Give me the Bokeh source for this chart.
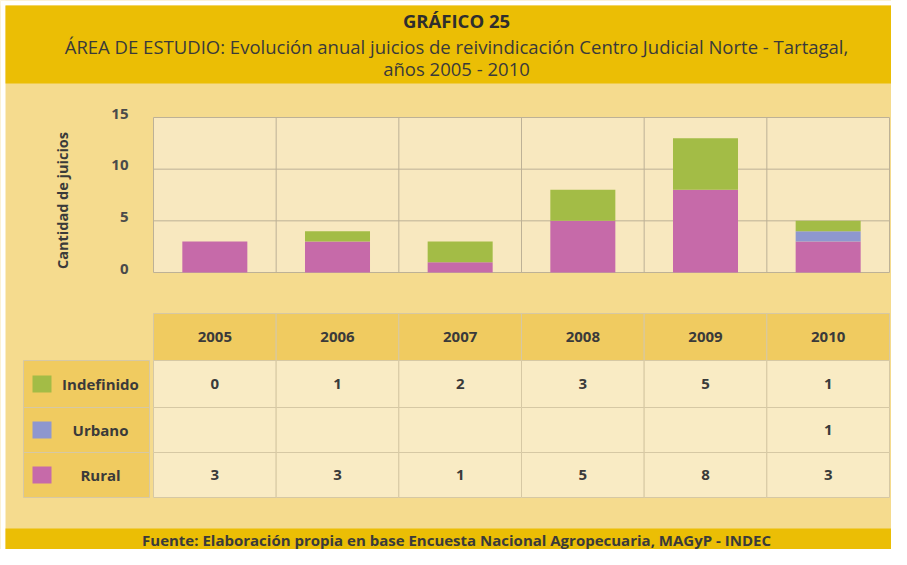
import numpy as np
from bokeh.plotting import figure
from bokeh.models import Range1d, ColumnDataSource
from bokeh.core.properties import value
from bokeh.embed import file_html
from bokeh.resources import INLINE

# ---------------- data ----------------
years = ["2005", "2006", "2007", "2008", "2009", "2010"]
rural = [3, 3, 1, 5, 8, 3]
urbano = [None, None, None, None, None, 1]
indefinido = [0, 1, 2, 3, 5, 1]
y_ticks = [0, 5, 10, 15]
series_names = ["Indefinido", "Urbano", "Rural"]
series_colors = ["#A3BC46", "#8E97CF", "#C66AA9"]

title = "GRÁFICO 25"
subtitle1 = "ÁREA DE ESTUDIO: Evolución anual juicios de reivindicación Centro Judicial Norte - Tartagal,"
subtitle2 = "años 2005 - 2010"
y_label = "Cantidad de juicios"
footer = "Fuente: Elaboración propia en base Encuesta Nacional Agropecuaria, MAGyP - INDEC"

# ---------------- styles ----------------
BANNER = "#EBBE05"
BODY = "#F5DB8E"
PLOTBG = "#F8E8BF"
GRID = "#BDB196"
HEAD = "#F0CB60"
CELL = "#F9EBC4"
CELL_LINE = "#D6C8A4"
TXT = "#3A3A3A"
FONT = value("Open Sans")

W, H = 891, 549
PLOT_L, PLOT_R, PLOT_T, PLOT_B = 153, 889, 117, 272
ncat = len(years)
ymax = max(y_ticks)
ppx = (PLOT_R - PLOT_L) / ncat
ppy = (PLOT_B - PLOT_T) / ymax

p = figure(width=W, height=H, output_backend="svg", toolbar_location=None,
           x_range=Range1d(0, W), y_range=Range1d(H, 0),
           x_axis_location=None, y_axis_location=None, min_border=0)
p.grid.visible = False
p.outline_line_color = None
p.background_fill_color = BODY
p.border_fill_color = BODY
p.extra_x_ranges = {"cat": Range1d(-PLOT_L / ppx, ncat + (W - PLOT_R) / ppx)}
p.extra_y_ranges = {"val": Range1d(-(H - PLOT_B) / ppy, ymax + PLOT_T / ppy)}

# white frame strips (top / left), banners
p.quad(left=[0, 0], right=[W, 5], top=[0, 0], bottom=[5, H], fill_color="white", line_color=None)
p.quad(left=5, right=W, top=5, bottom=83, fill_color=BANNER, line_color=None)
p.quad(left=5, right=W, top=528, bottom=H, fill_color=BANNER, line_color=None)

# title texts
CX = 456
p.text(x=[CX], y=[20], text=[title], text_font=FONT, text_font_style="bold",
       text_font_size="18.5px", text_color="#2E2E2E", text_align="center", text_baseline="middle")
p.text(x=[CX, CX], y=[46, 68], text=[subtitle1, subtitle2], text_font=FONT,
       text_font_size="18.5px", text_color=TXT, text_align="center", text_baseline="middle")
p.text(x=[CX], y=[539], text=[footer], text_font=FONT, text_font_style="bold",
       text_font_size="15px", text_color=TXT, text_align="center", text_baseline="middle")

# plot area
p.quad(left=0, right=ncat, bottom=0, top=ymax, fill_color=PLOTBG, line_color=None,
       x_range_name="cat", y_range_name="val")
p.segment(x0=[0] * len(y_ticks), x1=[ncat] * len(y_ticks), y0=y_ticks, y1=y_ticks,
          line_color=GRID, line_width=1, x_range_name="cat", y_range_name="val")
p.segment(x0=list(range(ncat + 1)), x1=list(range(ncat + 1)), y0=[0] * (ncat + 1),
          y1=[ymax] * (ncat + 1), line_color=GRID, line_width=1,
          x_range_name="cat", y_range_name="val")

xc = np.arange(ncat) + 0.5
src = ColumnDataSource(dict(
    x=xc,
    Rural=[v or 0 for v in rural],
    Urbano=[v or 0 for v in urbano],
    Indefinido=[v or 0 for v in indefinido],
))
p.vbar_stack(["Rural", "Urbano", "Indefinido"], x="x", width=0.53,
             fill_color=[series_colors[2], series_colors[1], series_colors[0]],
             line_color=None, source=src, x_range_name="cat", y_range_name="val")

# y tick labels and axis title
p.text(x=[128] * len(y_ticks), y=y_ticks, text=[str(t) for t in y_ticks], text_font=FONT,
       text_font_style="bold", text_font_size="15px", text_color="#4A4A4A",
       text_align="right", text_baseline="middle", y_offset=-4, y_range_name="val")
p.text(x=[62], y=[200], text=[y_label], angle=np.pi / 2, text_font=FONT,
       text_font_style="bold", text_font_size="14.5px", text_color=TXT,
       text_align="center", text_baseline="middle")

# ---------------- table ----------------
HEAD_T, HEAD_B = 313, 360
row_edges = [360, 407, 452, 497]
row_top = row_edges[:-1]
row_bot = row_edges[1:]
row_mid = [(a + b) / 2 for a, b in zip(row_top, row_bot)]
LEG_L, LEG_R = 23, 149

# header cells
p.quad(left=list(range(ncat)), right=list(range(1, ncat + 1)), top=[HEAD_T] * ncat,
       bottom=[HEAD_B] * ncat, fill_color=HEAD, line_color=CELL_LINE, x_range_name="cat")
p.text(x=xc, y=[(HEAD_T + HEAD_B) / 2] * ncat, text=years, text_font=FONT,
       text_font_style="bold", text_font_size="15px", text_color=TXT,
       text_align="center", text_baseline="middle", x_range_name="cat")

# data cells
cl, cr, ct, cb = [], [], [], []
for r in range(len(series_names)):
    for c in range(ncat):
        cl.append(c); cr.append(c + 1); ct.append(row_top[r]); cb.append(row_bot[r])
p.quad(left=cl, right=cr, top=ct, bottom=cb, fill_color=CELL, line_color=CELL_LINE,
       x_range_name="cat")

# legend cells
p.quad(left=[LEG_L] * 3, right=[LEG_R] * 3, top=row_top, bottom=row_bot,
       fill_color=HEAD, line_color=CELL_LINE)
p.rect(x=[41.5] * 3, y=row_mid, width=19, height=17, fill_color=series_colors, line_color=None)
p.text(x=[100] * 3, y=row_mid, text=series_names, text_font=FONT, text_font_style="bold",
       text_font_size="15px", text_color=TXT, text_align="center", text_baseline="middle")

# values
table_rows = [indefinido, urbano, rural]
tx, ty, tt = [], [], []
for r, row in enumerate(table_rows):
    for c, v in enumerate(row):
        tx.append(xc[c]); ty.append(row_mid[r]); tt.append("" if v is None else str(v))
p.text(x=tx, y=ty, text=tt, text_font=FONT, text_font_style="bold", text_font_size="15px",
       text_color=TXT, text_align="center", text_baseline="middle", x_range_name="cat")

open("out.html", "w").write(file_html(p, INLINE))
